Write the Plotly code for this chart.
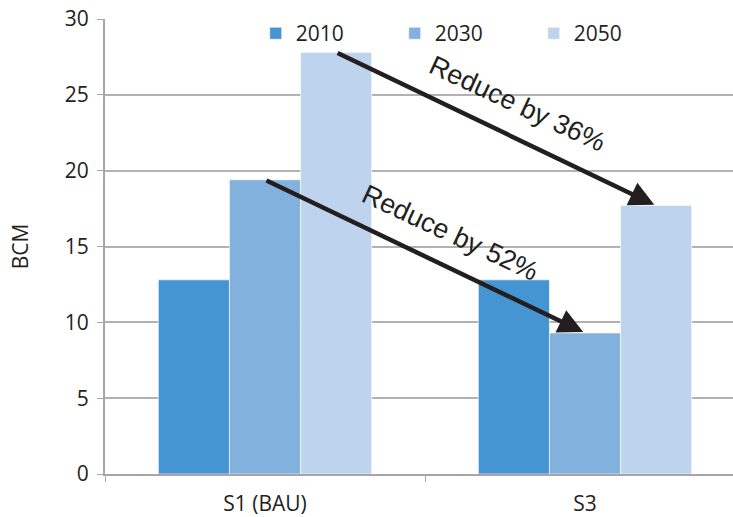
import plotly.graph_objects as go

# Scenario water demand (BCM) by year
scenarios = ["S1 (BAU)", "S3"]
years = ["2010", "2030", "2050"]
demand_2010 = [12.8, 12.8]
demand_2030 = [19.4, 9.3]
demand_2050 = [27.8, 17.7]
colors = ["#4495d1", "#83b1dd", "#bed4ee"]

series = [demand_2010, demand_2030, demand_2050]

fig = go.Figure()
for yr, vals, col in zip(years, series, colors):
    fig.add_trace(go.Bar(
        x=scenarios, y=vals, name=yr,
        marker=dict(color=col, line=dict(color="rgba(255,255,255,0.6)", width=1)),
    ))

BARGAP = 1 / 3
bar_w = (1 - BARGAP) / len(years)

def bar_center(cat_idx, year_idx):
    return cat_idx + (year_idx - (len(years) - 1) / 2) * bar_w

# Arrows from S1 bar tops down to S3 bar tops
arrows = [
    (2, "Reduce by 36%"),
    (1, "Reduce by 52%"),
]
label_pos = {2: (0.79, 24.4), 1: (0.58, 15.9)}
for yi, text in arrows:
    vals = series[yi]
    fig.add_annotation(
        x=bar_center(1, yi), y=vals[1], xref="x", yref="y",
        ax=bar_center(0, yi), ay=vals[0], axref="x", ayref="y",
        showarrow=True, arrowhead=2, arrowsize=1.1, arrowwidth=4.5,
        arrowcolor="#231f20", standoff=2, text="",
    )
    lx, ly = label_pos[yi]
    fig.add_annotation(
        x=lx, y=ly, xref="x", yref="y", text=text, showarrow=False,
        textangle=25, font=dict(family="Liberation Sans, Arial", size=27, color="#231f20"),
    )

fig.update_layout(
    width=733, height=517,
    margin=dict(l=105, r=0, t=19, b=43),
    paper_bgcolor="white", plot_bgcolor="white",
    barmode="group", bargap=BARGAP, bargroupgap=0,
    font=dict(family="Open Sans", size=21, color="#231f20"),
    showlegend=True,
    legend=dict(
        orientation="h", x=0.24, y=1.013, xanchor="left", yanchor="top",
        entrywidth=94, bgcolor="rgba(0,0,0,0)",
        font=dict(size=21, color="#231f20"),
    ),
    xaxis=dict(
        type="category", range=[-0.5, 1.4625],
        showline=True, linecolor="#a6a6a8", linewidth=2,
        ticks="outside", tickson="boundaries", ticklen=6, tickcolor="#a6a6a8",
        ticklabelstandoff=10,
        showgrid=False, tickfont=dict(size=21, color="#231f20"),
    ),
    yaxis=dict(
        range=[0, 30], dtick=5, title=dict(text="BCM", font=dict(size=21), standoff=30),
        showline=True, linecolor="#a6a6a8", linewidth=2,
        ticks="outside", ticklen=6, tickcolor="#a6a6a8", ticklabelstandoff=4,
        showgrid=True, gridcolor="#b2b2b4", gridwidth=1.5,
        zeroline=False, tickfont=dict(size=21, color="#231f20"),
    ),
)

fig.write_html("out.html")
